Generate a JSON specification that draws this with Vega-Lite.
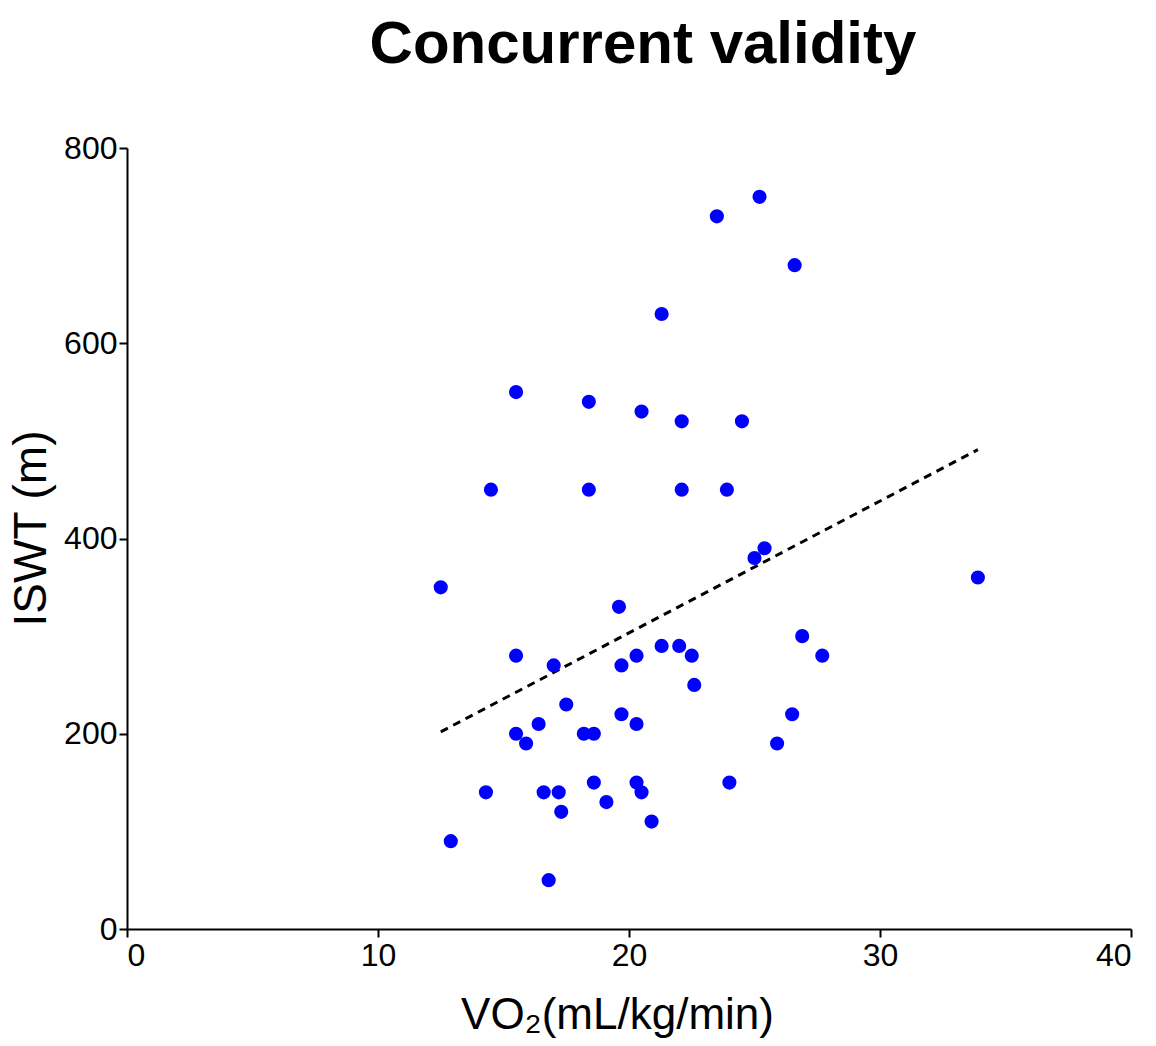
{
  "$schema": "https://vega.github.io/schema/vega-lite/v6.json",
  "autosize": "none",
  "width": 1004,
  "height": 781,
  "padding": {"left": 127, "top": 148, "right": 25, "bottom": 117},
  "background": "white",
  "title": {
    "text": "Concurrent validity",
    "font": "Liberation Sans, Arial",
    "fontSize": 60,
    "fontWeight": "bold",
    "color": "black",
    "anchor": "middle",
    "dx": 14,
    "offset": 56
  },
  "config": {
    "view": {"stroke": null},
    "axis": {
      "grid": false,
      "domainColor": "black",
      "domainWidth": 2,
      "tickColor": "black",
      "tickWidth": 2,
      "tickSize": 8,
      "labelColor": "black",
      "titleColor": "black",
      "labelFont": "Liberation Sans, Arial",
      "titleFont": "Liberation Sans, Arial",
      "titleFontWeight": "normal"
    }
  },
  "datasets": {
    "pts": [
      {"vo2": 25.2, "iswt": 750}, {"vo2": 23.5, "iswt": 730}, {"vo2": 26.6, "iswt": 680},
      {"vo2": 21.3, "iswt": 630}, {"vo2": 15.5, "iswt": 550}, {"vo2": 18.4, "iswt": 540},
      {"vo2": 20.5, "iswt": 530}, {"vo2": 22.1, "iswt": 520}, {"vo2": 24.5, "iswt": 520},
      {"vo2": 14.5, "iswt": 450}, {"vo2": 18.4, "iswt": 450}, {"vo2": 22.1, "iswt": 450},
      {"vo2": 23.9, "iswt": 450}, {"vo2": 12.5, "iswt": 350}, {"vo2": 19.6, "iswt": 330},
      {"vo2": 25.0, "iswt": 380}, {"vo2": 25.4, "iswt": 390}, {"vo2": 33.9, "iswt": 360},
      {"vo2": 26.9, "iswt": 300}, {"vo2": 27.7, "iswt": 280}, {"vo2": 15.5, "iswt": 280},
      {"vo2": 17.0, "iswt": 270}, {"vo2": 19.7, "iswt": 270}, {"vo2": 20.3, "iswt": 280},
      {"vo2": 21.3, "iswt": 290}, {"vo2": 22.0, "iswt": 290}, {"vo2": 22.5, "iswt": 280},
      {"vo2": 22.6, "iswt": 250}, {"vo2": 17.5, "iswt": 230}, {"vo2": 16.4, "iswt": 210},
      {"vo2": 15.5, "iswt": 200}, {"vo2": 15.9, "iswt": 190}, {"vo2": 18.2, "iswt": 200},
      {"vo2": 18.6, "iswt": 200}, {"vo2": 19.7, "iswt": 220}, {"vo2": 20.3, "iswt": 210},
      {"vo2": 26.5, "iswt": 220}, {"vo2": 25.9, "iswt": 190}, {"vo2": 14.3, "iswt": 140},
      {"vo2": 16.6, "iswt": 140}, {"vo2": 17.2, "iswt": 140}, {"vo2": 18.6, "iswt": 150},
      {"vo2": 19.1, "iswt": 130}, {"vo2": 20.3, "iswt": 150}, {"vo2": 20.5, "iswt": 140},
      {"vo2": 17.3, "iswt": 120}, {"vo2": 20.9, "iswt": 110}, {"vo2": 24.0, "iswt": 150},
      {"vo2": 12.9, "iswt": 90}, {"vo2": 16.8, "iswt": 50}
    ],
    "fit": [
      {"vo2": 12.5, "iswt": 202},
      {"vo2": 33.9, "iswt": 491}
    ]
  },
  "layer": [
    {
      "data": {"name": "fit"},
      "mark": {"type": "line", "color": "black", "strokeWidth": 3, "strokeDash": [8, 6]},
      "encoding": {
        "x": {"field": "vo2", "type": "quantitative"},
        "y": {"field": "iswt", "type": "quantitative"}
      }
    },
    {
      "data": {"name": "pts"},
      "mark": {"type": "circle", "color": "#0000ff", "opacity": 1, "size": 200},
      "encoding": {
        "x": {
          "field": "vo2",
          "type": "quantitative",
          "scale": {"domain": [0, 40], "nice": false, "zero": false},
          "axis": {
            "values": [0, 10, 20, 30, 40],
            "title": "VO₂(mL/kg/min)",
            "titleFontSize": 44,
            "titlePadding": 22,
            "titleX": 490,
            "labelFontSize": 32,
            "labelPadding": 3
          }
        },
        "y": {
          "field": "iswt",
          "type": "quantitative",
          "scale": {"domain": [0, 800], "nice": false},
          "axis": {
            "values": [0, 200, 400, 600, 800],
            "title": "ISWT (m)",
            "titleFontSize": 46,
            "titlePadding": 8,
            "titleY": 380,
            "labelFontSize": 32,
            "labelPadding": 2
          }
        }
      }
    }
  ]
}
